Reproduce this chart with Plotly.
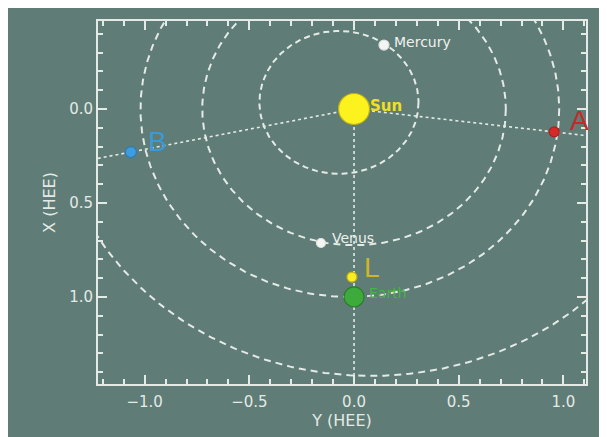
import numpy as np
import plotly.graph_objects as go

# ---- data ----
orbit_names = ["Mercury", "Venus", "Earth", "Mars"]
orbit_center_y = [-0.072, 0.0, -0.02, 0.08]
orbit_center_x = [-0.035, 0.0, 0.0, -0.10]
orbit_radius = [0.38, 0.725, 1.0, 1.52]

body_names = ["Sun", "Mercury", "Venus", "L", "Earth", "A", "B"]
body_y = [0.0, 0.143, -0.158, -0.01, 0.0, 0.956, -1.066]
body_x = [0.0, -0.340, 0.713, 0.894, 1.0, 0.122, 0.229]

x_ticks = [-1.0, -0.5, 0.0, 0.5, 1.0]
y_ticks = [0.0, 0.5, 1.0]

x_range = [-1.223, 1.108]
y_range = [1.463, -0.468]

# ---- styles ----
BG = "#5f7c76"
FG = "#e4eae6"
body_colors = ["#fbf21e", "#f4f6f4", "#f4f6f4", "#f8ee22", "#3cab3c", "#d62a2a", "#3d9de0"]
body_line = ["#c2b018", "#dfe3df", "#dfe3df", "#c2b018", "#2b7d2b", "#a82020", "#2f7ab0"]
body_sizes = [31, 10, 9, 10, 20, 10, 11]
label_texts = ["<b>Sun</b>", "Mercury", "Venus", "L", "Earth", "A", "B"]
label_colors = ["#f0e020", "#eef2ee", "#eef2ee", "#cdb62a", "#45b545", "#c42a2a", "#3a9ad8"]
label_sizes = [15, 14, 14, 28, 14, 28, 28]
label_fonts = ["DejaVu Sans", "DejaVu Sans", "DejaVu Sans", "Liberation Sans",
               "DejaVu Sans", "Liberation Sans", "Liberation Sans"]
label_dx = [14, 8, 9, 10, 13, 14, 15]
label_dy = [3, 3, 5, 10, 4, 11, 11]

fig = go.Figure()

# orbits
t = np.linspace(0, 2 * np.pi, 400)
for name, cy, cx, r in zip(orbit_names, orbit_center_y, orbit_center_x, orbit_radius):
    fig.add_trace(go.Scatter(
        x=cy + r * np.cos(t), y=cx + r * np.sin(t), mode="lines",
        line=dict(color=FG, width=2, dash="7px,5px" if name != "Mercury" else "6px,4px"),
        hoverinfo="skip", showlegend=False))

# lines Sun -> spacecraft, extended to frame edges
sun_y, sun_x = body_y[0], body_x[0]
for nm in ["A", "B"]:
    i = body_names.index(nm)
    dy, dx = body_y[i] - sun_y, body_x[i] - sun_x
    edge = x_range[1] if dy > 0 else x_range[0]
    s = (edge - sun_y) / dy
    fig.add_trace(go.Scatter(
        x=[sun_y, sun_y + s * dy], y=[sun_x, sun_x + s * dx], mode="lines",
        line=dict(color=FG, width=1.6, dash="dot"), hoverinfo="skip", showlegend=False))

# Sun -> Earth line extended to bottom
ie = body_names.index("Earth")
fig.add_trace(go.Scatter(
    x=[sun_y, body_y[ie]], y=[sun_x, y_range[0]], mode="lines",
    line=dict(color=FG, width=1.6, dash="dot"), hoverinfo="skip", showlegend=False))

# bodies
fig.add_trace(go.Scatter(
    x=body_y, y=body_x, mode="markers",
    marker=dict(color=body_colors, size=body_sizes, opacity=1,
                line=dict(width=1.2, color=body_line)),
    hovertext=body_names, showlegend=False))

for i, nm in enumerate(body_names):
    fig.add_annotation(
        x=body_y[i], y=body_x[i], xref="x", yref="y", text=label_texts[i], showarrow=False,
        xanchor="left", yanchor="middle", xshift=label_dx[i], yshift=label_dy[i],
        font=dict(color=label_colors[i], size=label_sizes[i], family=label_fonts[i]))

axis_common = dict(
    showgrid=False, zeroline=False, showline=True, linecolor=FG, linewidth=2,
    mirror="allticks", ticks="inside", ticklen=9, tickwidth=2, tickcolor=FG,
    tickfont=dict(color=FG, size=15, family="DejaVu Sans"),
    minor=dict(dtick=0.1, ticks="inside", ticklen=5, tickwidth=1.5, tickcolor=FG),
)

fig.update_xaxes(
    range=x_range, tickvals=x_ticks, ticktext=[f"{v:.1f}".replace("-", "\u2212") for v in x_ticks],
    ticklabelstandoff=3,
    title=dict(text="Y (HEE)", font=dict(color=FG, size=16, family="DejaVu Sans"), standoff=3),
    **axis_common)
fig.update_yaxes(
    range=y_range, tickvals=y_ticks, ticktext=[f"{v:.1f}" for v in y_ticks],
    title=dict(text="X (HEE)", font=dict(color=FG, size=16, family="DejaVu Sans"), standoff=10),
    **axis_common)

# page body has an 8px margin, so the figure is sized to end at the window edge
fig.update_layout(
    width=599, height=429,
    margin=dict(l=90, r=21, t=13, b=53, autoexpand=False),
    paper_bgcolor=BG, plot_bgcolor=BG,
)

fig.write_html("out.html")
